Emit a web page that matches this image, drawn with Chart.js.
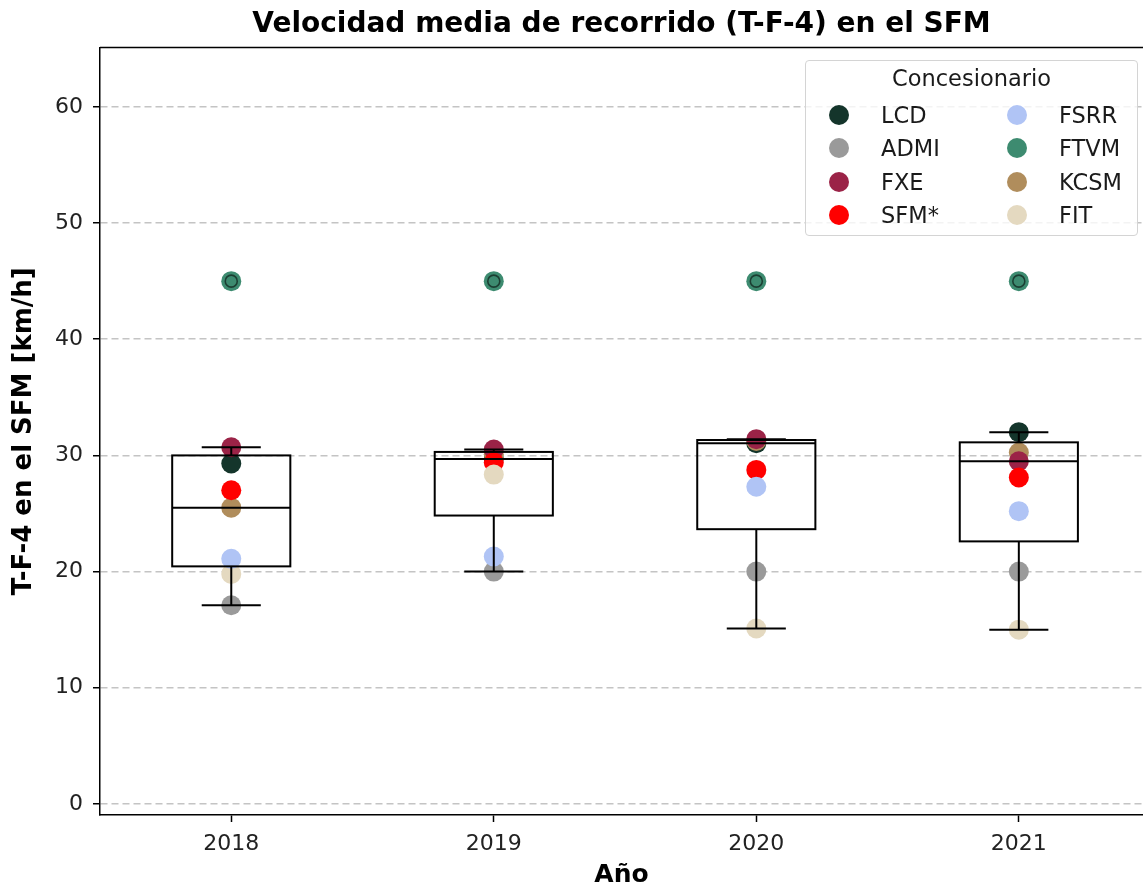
<!DOCTYPE html>
<html>
<head>
<meta charset="utf-8">
<script src="https://cdn.jsdelivr.net/npm/chart.js@4"></script>
<style>
  body { margin: 0; background: #fff; font-family: "DejaVu Sans", sans-serif; overflow: hidden; }
  #wrap { position: relative; width: 1143px; height: 890px; }
  #leyenda {
    position: absolute; left: 805px; top: 60px; width: 331px; height: 174px;
    background: rgba(255,255,255,0.8); border: 1.5px solid #d4d4d4; border-radius: 4px;
    color: #1a1a1a; font-size: 22.5px;
  }
  #leyenda .tit { position: absolute; top: 4px; width: 100%; text-align: center; }
  #leyenda .item { position: absolute; height: 24px; line-height: 24px; }
  #leyenda .dot { position: absolute; left: 0; top: 2px; width: 20px; height: 20px; border-radius: 50%; }
  #leyenda .lab { position: absolute; left: 52px; white-space: nowrap; }
</style>
</head>
<body>
<div id="wrap">
  <canvas id="chart" width="1143" height="890"></canvas>
  <div id="leyenda"><div class="tit">Concesionario</div></div>
</div>
<script>
const ANIOS = ['2018', '2019', '2020', '2021'];

// T-F-4 velocidad media [km/h] por concesionario y año
const LCD  = [29.3, 29.7, 31.05, 32.0];
const ADMI = [17.1, 20.0, 20.0, 20.0];
const FXE  = [30.7, 30.5, 31.4, 29.5];
const SFM  = [27.0, 29.4, 28.75, 28.1];
const FSRR = [21.1, 21.3, 27.3, 25.2];
const FTVM = [45, 45, 45, 45];
const KCSM = [25.5, 30.1, 31.25, 30.25];
const FIT  = [19.8, 28.35, 15.1, 15.0];

const Y_TICKS = [0, 10, 20, 30, 40, 50, 60];

// nombre, datos, color, orden de dibujo (menor = encima)
const series = [
    ['LCD', LCD, '#14352b', 6],
    ['ADMI', ADMI, '#9a9a9a', 7],
    ['FXE', FXE, '#9b2347', 4],
    ['SFM*', SFM, '#ff0000', 3],
    ['FSRR', FSRR, '#b0c4f5', 1],
    ['FTVM', FTVM, '#3d8b70', 8],
    ['KCSM', KCSM, '#b08d5c', 5],
    ['FIT', FIT, '#e4d9c0', 2]
];

// la caja se calcula sin el agregado SFM*
const paraCaja = [LCD, ADMI, FXE, FSRR, FTVM, KCSM, FIT];

function percentil(ord, p) {
    const k = (ord.length - 1) * p;
    const f = Math.floor(k), c = Math.ceil(k);
    return ord[f] + (ord[c] - ord[f]) * (k - f);
}

const cajas = {
    id: 'cajas',
    afterDatasetsDraw(chart) {
        const { ctx, chartArea, scales: { x, y } } = chart;
        ctx.save();
        ctx.strokeStyle = '#000';
        ctx.lineWidth = 2;
        ANIOS.forEach((a, i) => {
            const vals = paraCaja.map(s => s[i]).sort((p, q) => p - q);
            const q1 = percentil(vals, 0.25), med = percentil(vals, 0.5), q3 = percentil(vals, 0.75);
            const iqr = q3 - q1;
            const dentro = vals.filter(v => v >= q1 - 1.5 * iqr && v <= q3 + 1.5 * iqr);
            const lo = Math.min(...dentro), hi = Math.max(...dentro);
            const fuera = vals.filter(v => v < lo || v > hi);

            const xl = x.getPixelForValue(i - 0.225), xr = x.getPixelForValue(i + 0.225);
            const xc = x.getPixelForValue(i);
            const cl = x.getPixelForValue(i - 0.1125), cr = x.getPixelForValue(i + 0.1125);
            const line = (x1, y1, x2, y2) => { ctx.beginPath(); ctx.moveTo(x1, y1); ctx.lineTo(x2, y2); ctx.stroke(); };

            ctx.strokeRect(xl, y.getPixelForValue(q3), xr - xl, y.getPixelForValue(q1) - y.getPixelForValue(q3));
            line(xl, y.getPixelForValue(med), xr, y.getPixelForValue(med));
            line(xc, y.getPixelForValue(q1), xc, y.getPixelForValue(lo));
            line(xc, y.getPixelForValue(q3), xc, y.getPixelForValue(hi));
            line(cl, y.getPixelForValue(lo), cr, y.getPixelForValue(lo));
            line(cl, y.getPixelForValue(hi), cr, y.getPixelForValue(hi));

            ctx.save();
            ctx.strokeStyle = 'rgba(0,0,0,0.55)';
            ctx.lineWidth = 1.6;
            fuera.forEach(v => {
                ctx.beginPath();
                ctx.arc(xc, y.getPixelForValue(v), 6, 0, Math.PI * 2);
                ctx.stroke();
            });
            ctx.restore();
        });
        // marco superior
        ctx.lineWidth = 1.5;
        ctx.beginPath();
        ctx.moveTo(chartArea.left, chartArea.top);
        ctx.lineTo(chartArea.right, chartArea.top);
        ctx.stroke();
        ctx.restore();
    }
};

const datasets = series.map(([nombre, datos, color, orden]) => ({
    label: nombre,
    data: datos.map((v, i) => ({ x: i, y: v })),
    backgroundColor: color,
    borderWidth: 0,
    pointRadius: 10,
    pointHoverRadius: 10,
    order: orden
}));

const ctx = document.getElementById('chart').getContext('2d');
Chart.defaults.font.family = '"DejaVu Sans", sans-serif';
Chart.defaults.color = '#222';

const chart = new Chart(ctx, {
    type: 'scatter',
    data: { datasets: datasets },
    options: {
        responsive: false,
        animation: false,
        layout: { padding: 0, autoPadding: false },
        plugins: {
            legend: { display: false },
            tooltip: { enabled: false },
            title: {
                display: true,
                fullSize: false,
                text: 'Velocidad media de recorrido (T-F-4) en el SFM',
                color: '#000',
                font: { size: 28, weight: 'bold', lineHeight: 1.2 },
                padding: { top: 8, bottom: 6 }
            }
        },
        scales: {
            x: {
                type: 'linear',
                min: -0.5,
                max: 3.473,
                afterFit: s => { s.height = 75; },
                afterBuildTicks: s => { s.ticks = ANIOS.map((a, i) => ({ value: i })); },
                ticks: { callback: (v) => ANIOS[v], font: { size: 22 }, padding: 9, autoSkip: false, maxRotation: 0 },
                grid: { drawOnChartArea: false, drawTicks: true, tickLength: 7, tickColor: '#000', tickWidth: 1.5 },
                border: { display: true, color: '#000', width: 1.5 },
                title: { display: true, text: 'Año', color: '#000', font: { size: 25, weight: 'bold', lineHeight: 1.2 }, padding: { top: 0, bottom: 0 } }
            },
            y: {
                min: -0.95,
                max: 65.1,
                afterFit: s => { s.width = 100; },
                afterBuildTicks: s => { s.ticks = Y_TICKS.map(v => ({ value: v })); },
                ticks: { font: { size: 22 }, padding: 10 },
                grid: { color: '#c4c4c4', lineWidth: 1.5, tickLength: 7, tickColor: '#000', tickWidth: 1.5, tickBorderDash: [] },
                border: { display: true, color: '#000', width: 1.5, dash: [7, 4] },
                title: { display: true, text: 'T-F-4 en el SFM [km/h]', color: '#000', font: { size: 26, weight: 'bold', lineHeight: 1.2 }, padding: { top: 9, bottom: 0 } }
            }
        }
    },
    plugins: [cajas]
});

// leyenda en dos columnas, como la original
const ley = document.getElementById('leyenda');
series.forEach(([nombre, datos, color], k) => {
    const col = Math.floor(k / 4), fila = k % 4;
    const it = document.createElement('div');
    it.className = 'item';
    it.style.left = (col === 0 ? 23 : 201) + 'px';
    it.style.top = (42 + fila * 33.3) + 'px';
    it.innerHTML = `<span class="dot" style="background:${color}"></span><span class="lab">${nombre}</span>`;
    ley.appendChild(it);
});
</script>
</body>
</html>
